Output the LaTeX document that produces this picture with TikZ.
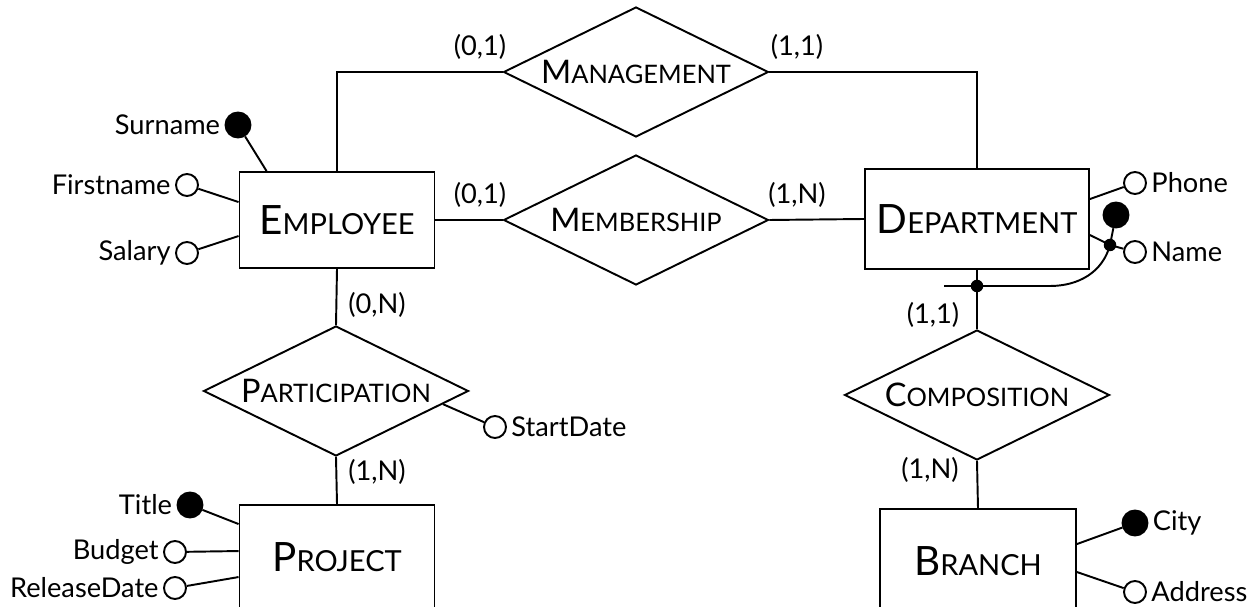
\documentclass[tikz,border=0pt]{standalone}
\usepackage{fontspec}
\setmainfont{Lato}
\usetikzlibrary{shapes.geometric,calc}
\newcommand{\entname}[2]{{\fontsize{23}{23}\selectfont #1}{\fontsize{16.5}{16.5}\selectfont #2}}
\newcommand{\relname}[2]{{\fontsize{18.5}{18.5}\selectfont #1}{\fontsize{14.5}{14.5}\selectfont #2}}

\begin{document}
\begin{tikzpicture}[x=0.02cm, y=-0.02cm, line width=1.1pt,
  entity/.style={draw, rectangle, inner sep=0pt},
  relship/.style={draw, diamond, aspect=2.04, inner sep=0pt, minimum width=5.3cm, minimum height=2.6cm},
  attr/.style={draw, circle, inner sep=0pt, minimum size=0.44cm},
  keyattr/.style={attr, fill=black, minimum size=0.5cm},
  jdot/.style={circle, fill=black, inner sep=0pt, minimum size=0.25cm},
  card/.style={font=\fontsize{15.5}{15.5}\selectfont},
  atxt/.style={font=\fontsize{15.5}{15.5}\selectfont, inner sep=2pt}]
\clip (0,0) rectangle (1259,607);
% entities
\node[entity, minimum width=3.9cm, minimum height=1.92cm] (emp) at (337,220) {\entname{E}{MPLOYEE}};
\node[entity, minimum width=4.48cm, minimum height=2cm] (dept) at (977,219) {\entname{D}{EPARTMENT}};
\node[entity, minimum width=3.9cm, minimum height=2.08cm] (proj) at (337,557) {\entname{P}{ROJECT}};
\node[entity, minimum width=3.92cm, minimum height=2.08cm] (branch) at (978,561) {\entname{B}{RANCH}};
% relationships
\node[relship] (mgmt) at (636,72) {\relname{M}{ANAGEMENT}};
\node[relship] (memb) at (636,220) {\relname{M}{EMBERSHIP}};
\node[relship] (part) at (336,391) {\relname{P}{ARTICIPATION}};
\node[relship] (comp) at (977,395) {\relname{C}{OMPOSITION}};
\draw (emp.north) |- (mgmt.west);
\draw (mgmt.east) -| (dept.north);
\draw (emp.east) -- (memb.west);
\draw (memb.east) -- (dept.west);
\draw (emp.south) -- (part.north);
\draw (part.south) -- (proj.north);
\draw (dept.south) -- (comp.north);
\draw (comp.south) -- (branch.north);
% cardinalities
\node[card] (c1) at (480,47) {(0,1)};
\node[card] (c2) at (797,47) {(1,1)};
\node[card] (c3) at (480,195) {(0,1)};
\node[card] (c4) at (797,195) {(1,N)};
\node[card] (c5) at (377,305) {(0,N)};
\node[card] (c6) at (377,472) {(1,N)};
\node[card] (c7) at (933,315) {(1,1)};
\node[card] (c8) at (930,470) {(1,N)};
% attributes of employee
\node[keyattr, label={[atxt]left:Surname}] (surname) at (238,125) {};
\node[attr, label={[atxt]left:Firstname}] (firstname) at (187,185) {};
\node[attr, label={[atxt]left:Salary}] (salary) at (187,253) {};
\draw (surname) -- ($(emp.north west)+(28,0)$);
\draw (firstname) -- ($(emp.north west)+(0,31)$);
\draw (salary) -- ($(emp.north west)+(0,65)$);
% attributes of project
\node[keyattr, label={[atxt]left:Title}] (title) at (190,505) {};
\node[attr, label={[atxt]left:Budget}] (budget) at (175,552) {};
\node[attr, label={[atxt]left:ReleaseDate}] (reldate) at (175,588) {};
\draw (title) -- ($(proj.north west)+(0,20)$);
\draw (budget) -- ($(proj.north west)+(0,47)$);
\draw (reldate) -- ($(proj.north west)+(0,73)$);
% attribute of participation
\node[attr, label={[atxt]right:StartDate}] (startdate) at (495,427) {};
\draw (startdate) -- (part.-7);
% attributes of department
\node[attr, label={[atxt]right:Phone}] (phone) at (1135,183) {};
\node[attr, label={[atxt]right:Name}] (name) at (1135,252) {};
\node[keyattr] (namekey) at (1116,215) {};
\coordinate (namej) at (1110,245);
\coordinate (cbend) at (1050,286);
\coordinate (cend) at (944,286);
\draw (phone) -- ($(dept.north east)+(0,31)$);
\draw ($(dept.north east)+(0,67)$) -- (namej) -- (name);
\draw (namej) -- (namekey);
\draw (namej) to[out=-105,in=0] (cbend) -- (cend);
\node[jdot] (namejdot) at (namej) {};
\node[jdot] (compdot) at (977,286) {};
% attributes of branch
\node[keyattr, label={[atxt]right:City}] (city) at (1135,523) {};
\node[attr, label={[atxt]right:Address}] (address) at (1135,592) {};
\draw (city) -- ($(branch.north east)+(0,36)$);
\draw (address) -- ($(branch.north east)+(0,64)$);
\end{tikzpicture}
\end{document}
